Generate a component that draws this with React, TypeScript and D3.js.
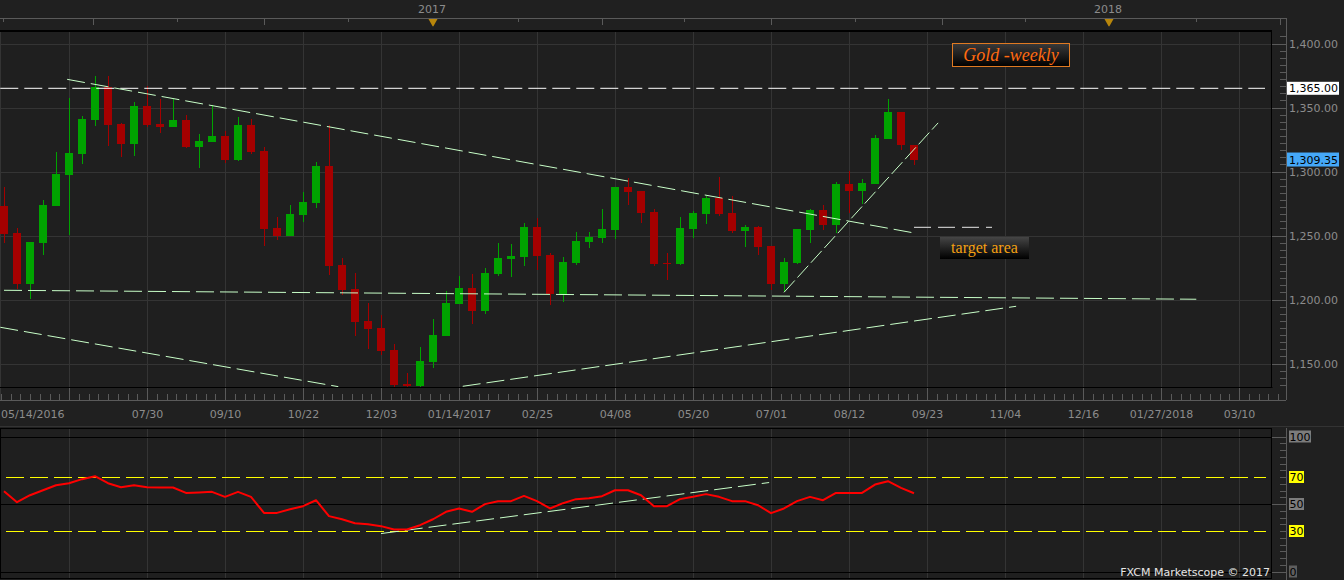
import * as d3 from "d3";

// weekly candles, first week 2016-05-14
const firstWeek = "2016-05-14";
const opens = [1273.0, 1251.7, 1212.3, 1244.4, 1273.0, 1297.5, 1313.7, 1340.2, 1365.8, 1337.1, 1321.7, 1351.2, 1337.1, 1334.8, 1340.2, 1319.4, 1323.0, 1327.7, 1309.0, 1336.3, 1316.0, 1255.9, 1249.6, 1266.0, 1275.4, 1304.3, 1227.0, 1208.2, 1183.2, 1177.7, 1160.5, 1134.0, 1132.4, 1151.2, 1171.5, 1196.7, 1209.0, 1191.0, 1219.9, 1231.9, 1233.2, 1256.6, 1234.8, 1204.3, 1228.5, 1244.9, 1248.0, 1254.3, 1287.9, 1284.8, 1268.4, 1228.5, 1227.7, 1255.1, 1266.8, 1279.3, 1267.6, 1253.5, 1256.6, 1241.8, 1212.3, 1228.5, 1254.3, 1270.0, 1258.2, 1290.2, 1284.8, 1290.2, 1325.4, 1346.5, 1320.7];
const highs = [1287.9, 1255.6, 1244.9, 1277.7, 1315.2, 1357.2, 1343.4, 1374.6, 1374.6, 1337.9, 1354.3, 1366.8, 1356.6, 1356.6, 1344.1, 1329.3, 1352.0, 1331.6, 1342.6, 1341.0, 1319.1, 1264.2, 1273.8, 1284.0, 1307.4, 1336.3, 1232.4, 1220.5, 1197.3, 1187.9, 1165.2, 1142.6, 1163.0, 1184.8, 1206.6, 1218.4, 1219.9, 1224.6, 1244.1, 1243.4, 1259.8, 1263.7, 1236.3, 1233.2, 1252.7, 1252.7, 1270.7, 1287.9, 1294.9, 1284.8, 1270.7, 1236.3, 1264.5, 1269.1, 1280.9, 1295.7, 1280.9, 1258.2, 1257.4, 1241.8, 1232.4, 1255.1, 1270.7, 1273.8, 1291.8, 1300.4, 1294.1, 1328.5, 1356.6, 1346.5, 1320.7];
const lows = [1244.0, 1208.0, 1200.4, 1234.8, 1273.0, 1250.4, 1306.0, 1335.5, 1320.2, 1311.6, 1312.3, 1334.8, 1330.1, 1334.8, 1318.4, 1303.0, 1323.0, 1306.4, 1308.2, 1313.9, 1241.8, 1246.5, 1249.6, 1260.5, 1271.5, 1219.1, 1203.8, 1171.5, 1161.3, 1156.6, 1122.0, 1124.0, 1128.0, 1146.5, 1171.5, 1196.7, 1181.0, 1188.9, 1218.4, 1217.6, 1226.2, 1223.0, 1195.7, 1198.0, 1226.9, 1240.2, 1244.1, 1247.3, 1273.8, 1259.8, 1226.2, 1215.2, 1227.0, 1248.0, 1259.0, 1265.2, 1252.0, 1241.0, 1234.8, 1207.4, 1205.9, 1228.0, 1244.1, 1254.3, 1252.0, 1267.6, 1274.6, 1290.2, 1325.4, 1316.8, 1305.0];
const closes = [1251.2, 1212.3, 1244.9, 1273.8, 1298.0, 1314.5, 1341.0, 1365.8, 1336.3, 1321.7, 1351.2, 1336.3, 1334.8, 1340.2, 1319.4, 1323.8, 1327.7, 1309.2, 1336.3, 1315.5, 1255.1, 1249.8, 1266.8, 1276.2, 1304.3, 1226.2, 1207.7, 1182.7, 1177.0, 1160.0, 1133.4, 1132.4, 1152.0, 1172.3, 1197.3, 1209.0, 1191.0, 1220.7, 1232.4, 1234.0, 1256.6, 1234.0, 1204.3, 1229.3, 1245.7, 1248.8, 1255.1, 1287.9, 1284.0, 1267.6, 1227.7, 1228.0, 1255.9, 1267.6, 1279.3, 1266.8, 1253.5, 1256.6, 1241.0, 1212.3, 1229.3, 1255.1, 1270.0, 1258.2, 1290.2, 1284.8, 1291.0, 1326.2, 1346.5, 1320.7, 1309.35];
const rsi = [59.5, 51.3, 56.5, 60.2, 63.9, 65.4, 68.4, 70.6, 65.4, 62.4, 63.9, 62.4, 62.2, 62.2, 58.2, 58.5, 59.0, 55.3, 59.0, 55.3, 43.4, 43.4, 46.1, 48.4, 52.8, 41.0, 38.7, 35.8, 35.0, 33.6, 31.1, 31.1, 34.3, 38.7, 44.2, 46.7, 44.2, 49.9, 52.1, 52.1, 56.0, 52.1, 46.7, 50.6, 53.6, 54.3, 55.8, 60.2, 60.2, 56.5, 48.4, 48.4, 53.6, 55.3, 57.3, 55.3, 52.1, 52.1, 49.1, 43.2, 46.7, 52.1, 55.3, 52.8, 58.2, 58.2, 58.2, 64.4, 66.9, 61.9, 58.0];

// drawn lines: [date, value] end points
const keyLevel: [string, number][] = [["2016-05-12", 1365], ["2018-03-24", 1365]];
const resistance: [string, number][] = [["2016-06-17", 1372], ["2017-09-16", 1252]];
const support: [string, number][] = [["2016-05-14", 1207.2], ["2018-02-15", 1200.2]];
const lowerFall: [string, number][] = [["2016-05-12", 1178.3], ["2016-11-10", 1131.9]];
const lowerRise: [string, number][] = [["2017-01-16", 1132.2], ["2017-11-10", 1194.7]];
const steepRise: [string, number][] = [["2017-07-08", 1205.6], ["2017-09-29", 1338]];
const targetLevel: [string, number][] = [["2017-09-16", 1256.4], ["2017-10-28", 1256.4]];
const rsiTrend: [string, number][] = [["2016-12-03", 28.1], ["2017-06-30", 65.9]];
const rsiLevels = [70, 30];

const gridDates = ["2016-06-18", "2016-07-30", "2016-09-10", "2016-10-22", "2016-12-03", "2017-01-14", "2017-02-25", "2017-04-08", "2017-05-20", "2017-07-01", "2017-08-12", "2017-09-23", "2017-11-04", "2017-12-16", "2018-01-27", "2018-03-10"];
const gridLabels = ["", "07/30", "09/10", "10/22", "12/03", "01/14/2017", "02/25", "04/08", "05/20", "07/01", "08/12", "09/23", "11/04", "12/16", "01/27/2018", "03/10"];
const firstLabel = "05/14/2016";
const yearMarks = [["2016-12-31", "2017"], ["2017-12-30", "2018"]];
const topTicksLong = ["2016-07-01", "2016-10-01", "2017-04-01", "2017-07-01", "2017-10-01", "2018-04-01"];
const topTicksShort = ["2016-08-15", "2016-11-15", "2017-02-15", "2017-05-15", "2017-08-15", "2017-11-15", "2018-02-15"];
const priceTicks = [1150, 1200, 1250, 1300, 1350, 1400];
const rsiTicks = [100, 70, 50, 30, 0];
const lastPrice = 1309.35;

const parse = d3.utcParse("%Y-%m-%d");
const fmt = d3.format(",.2f");

const GREEN = "#00a300";
const RED = "#a50000";
const GRID = "#343434";
const AXIS = "#5a5a5a";
const TXT = "#8c8c8c";
const MINT = "#c8ffc8";
const FONT = "DejaVu Sans, Verdana, sans-serif";

export default function App() {
  const W = 1344, H = 580;
  const plotR = 1272, plotT = 31, plotB = 387;
  const axisX = 1286;
  const dates = opens.map((_, i) => d3.utcDay.offset(parse(firstWeek)!, 7 * i));

  const x = d3.scaleUtc().domain([parse("2016-05-14")!, parse("2017-09-16")!]).range([4, 914]);
  const y = d3.scaleLinear().domain([1150, 1400]).range([363.5, 43.5]);
  const yR = d3.scaleLinear().domain([0, 100]).range([571.5, 436.5]);

  const px = (d: string) => x(parse(d)!);
  const seg = (pts: [string, number][], sc: (v: number) => number) =>
    d3.line<[string, number]>().x(p => px(p[0])).y(p => sc(p[1]))(pts) || "";

  const gx = gridDates.map(d => Math.round(px(d)) + 0.5);
  const step = (px("2016-07-30") - px("2016-06-18")) / 8;
  const minorStart = px("2016-05-07");
  const minorX = d3.range(0, 170).map(i => minorStart + i * step).filter(v => v > 0 && v < 1280);

  const priceMinor: number[] = [];
  for (let i = 0; i < priceTicks.length - 1; i++) {
    const a = y(priceTicks[i]), b = y(priceTicks[i + 1]);
    for (let j = 1; j < 9; j++) priceMinor.push(a + (b - a) * j / 9);
  }
  for (let j = 1; j < 4; j++) priceMinor.push(y(1400) - (y(1150) - y(1400)) / 5 / 9 * j);
  for (let j = 1; j < 4; j++) priceMinor.push(y(1150) + (y(1150) - y(1400)) / 5 / 9 * j);

  const rsiMinor = d3.range(0, 101, 5).filter(v => v % 50 !== 0);
  const rsiLine = d3.line<number>().x((_, i) => x(dates[i])).y(v => yR(v));

  return (
    <svg width={W} height={H} style={{ position: "absolute", left: 0, top: 0, background: "#202020" }}>
      <defs>
        <clipPath id="plot"><rect x={0} y={plotT} width={plotR} height={plotB - plotT} /></clipPath>
        <linearGradient id="gold" x1="0" y1="0" x2="0" y2="1">
          <stop offset="0" stopColor="#3a3a3a" />
          <stop offset="1" stopColor="#000" />
        </linearGradient>
        <linearGradient id="tgt" x1="0" y1="0" x2="0" y2="1">
          <stop offset="0" stopColor="#454545" />
          <stop offset="1" stopColor="#000" />
        </linearGradient>
      </defs>

      <rect x={0} y={0} width={W} height={H} fill="#202020" />
      <rect x={0} y={plotT} width={plotR} height={plotB - plotT} fill="#1f1f1f" />

      {/* top time axis */}
      <line x1={0} x2={axisX} y1={18.5} y2={18.5} stroke={AXIS} />
      {topTicksLong.map(d => <line key={d} x1={Math.round(px(d)) + 0.5} x2={Math.round(px(d)) + 0.5} y1={18} y2={25} stroke={AXIS} />)}
      {topTicksShort.map(d => <line key={d} x1={Math.round(px(d)) + 0.5} x2={Math.round(px(d)) + 0.5} y1={18} y2={22} stroke={AXIS} />)}
      <line x1={3.5} x2={3.5} y1={18} y2={22} stroke={AXIS} />
      {yearMarks.map(([d, t]) => {
        const cx = px(d);
        return (
          <g key={t}>
            <text x={cx - 1} y={13} textAnchor="middle" fontFamily={FONT} fontSize={11} fill={TXT}>{t}</text>
            <path d={`M${cx - 4.5},19 L${cx + 4.5},19 L${cx},27 Z`} fill="#b8860b" />
            <line x1={cx} x2={cx} y1={26} y2={33} stroke="#222" />
          </g>
        );
      })}

      {/* grid */}
      {priceTicks.map(v => <line key={v} x1={0} x2={plotR} y1={Math.round(y(v)) + 0.5} y2={Math.round(y(v)) + 0.5} stroke={GRID} />)}
      {gx.map(v => <line key={v} x1={v} x2={v} y1={plotT} y2={400} stroke={GRID} />)}
      <line x1={0.5} x2={0.5} y1={plotT} y2={400} stroke={GRID} />

      {/* candles */}
      <g clipPath="url(#plot)">
        {dates.map((d, i) => {
          const cx = Math.round(x(d));
          const up = closes[i] >= opens[i];
          const c = up ? GREEN : RED;
          const top = Math.round(y(Math.max(opens[i], closes[i])));
          const bot = Math.round(y(Math.min(opens[i], closes[i])));
          return (
            <g key={i}>
              <rect x={cx} width={1} y={Math.round(y(highs[i]))} height={Math.round(y(lows[i])) - Math.round(y(highs[i]))} fill={c} />
              <rect x={cx - 4} width={8} y={top} height={Math.max(1, bot - top)} fill={c} />
            </g>
          );
        })}

        <path d={seg(keyLevel, y)} stroke="#ffffff" strokeDasharray="18 6" fill="none" />
        <path d={seg(resistance, y)} stroke={MINT} strokeDasharray="18 6" fill="none" />
        <path d={seg(support, y)} stroke={MINT} strokeDasharray="18 6" fill="none" />
        <path d={seg(lowerFall, y)} stroke={MINT} strokeDasharray="18 6" fill="none" />
        <path d={seg(lowerRise, y)} stroke={MINT} strokeDasharray="18 6" fill="none" />
        <path d={seg(steepRise, y)} stroke={MINT} strokeDasharray="16 4" fill="none" />
        <path d={seg(targetLevel, y)} stroke="#e8e8e8" strokeDasharray="17 7" fill="none" />
      </g>

      {/* labels on chart */}
      <rect x={952.5} y={43.5} width={117} height={23} fill="url(#gold)" stroke="#e07a22" />
      <text x={1011} y={61} textAnchor="middle" fontFamily="Liberation Serif, serif" fontStyle="italic" fontSize={18} fill="#ff6a10">Gold -weekly</text>
      <rect x={940} y={237} width={89} height={22} fill="url(#tgt)" />
      <text x={984.5} y={252.5} textAnchor="middle" fontFamily="Liberation Serif, serif" fontSize={16} fill="#f4a012">target area</text>

      {/* frame */}
      <line x1={0} x2={plotR} y1={31} y2={31} stroke="#000" strokeWidth={2} />
      <line x1={0} x2={plotR + 0.5} y1={387.5} y2={387.5} stroke="#000" />
      <line x1={plotR - 0.5} x2={plotR - 0.5} y1={30} y2={388} stroke="#000" />

      {/* price axis */}
      <line x1={axisX + 0.5} x2={axisX + 0.5} y1={18} y2={400} stroke={AXIS} />
      {priceTicks.map(v => <line key={v} x1={plotR} x2={axisX} y1={Math.round(y(v)) + 0.5} y2={Math.round(y(v)) + 0.5} stroke={AXIS} />)}
      {priceMinor.filter(v => v > 33 && v < 386).map((v, i) => <line key={i} x1={1280} x2={axisX} y1={Math.round(v) + 0.5} y2={Math.round(v) + 0.5} stroke={AXIS} />)}
      {priceTicks.map(v => <text key={v} x={1289} y={y(v) + 4} fontFamily={FONT} fontSize={11} fill={TXT}>{fmt(v)}</text>)}
      <rect x={1287} y={y(1365) - 6.5} width={52} height={13} fill="#ffffff" />
      <text x={1289} y={y(1365) + 4} fontFamily={FONT} fontSize={11} fill="#000">{fmt(1365)}</text>
      <rect x={1287} y={y(lastPrice) - 7} width={52} height={14} fill="#45a8f8" />
      <text x={1289} y={y(lastPrice) + 4} fontFamily={FONT} fontSize={11} fill="#000">{fmt(lastPrice)}</text>

      {/* bottom time axis */}
      <line x1={0} x2={axisX} y1={400.5} y2={400.5} stroke={AXIS} />
      {minorX.map((v, i) => <line key={i} x1={Math.round(v) + 0.5} x2={Math.round(v) + 0.5} y1={394} y2={400} stroke={AXIS} />)}
      {gx.map(v => <line key={v} x1={v} x2={v} y1={388} y2={400} stroke={AXIS} />)}
      <text x={1} y={418} fontFamily={FONT} fontSize={11} fill={TXT}>{firstLabel}</text>
      {gridLabels.map((t, i) => t ? <text key={t} x={gx[i]} y={418} textAnchor="middle" fontFamily={FONT} fontSize={11} fill={TXT}>{t}</text> : null)}
      <line x1={0} x2={W} y1={426.5} y2={426.5} stroke="#333" />

      {/* RSI panel */}
      <rect x={0} y={428} width={plotR} height={150} fill="#1f1f1f" />
      {gx.map(v => <line key={v} x1={v} x2={v} y1={428} y2={578} stroke={GRID} />)}
      <line x1={0.5} x2={0.5} y1={428} y2={578} stroke={GRID} />
      {[100, 50, 0].map(v => <line key={v} x1={0} x2={plotR} y1={Math.round(yR(v)) + 0.5} y2={Math.round(yR(v)) + 0.5} stroke="#000" />)}
      {rsiLevels.map(v => <line key={v} x1={6} x2={1266} y1={Math.round(yR(v)) + 0.5} y2={Math.round(yR(v)) + 0.5} stroke="#ffff00" strokeDasharray="18 6" />)}
      <path d={seg(rsiTrend, yR)} stroke={MINT} strokeDasharray="18 6" fill="none" />
      <path d={rsiLine(rsi) || ""} stroke="#ff0000" strokeWidth={2} fill="none" strokeLinejoin="round" />
      <rect x={0.5} y={428.5} width={plotR - 1} height={150} fill="none" stroke="#000" />
      <text x={1270} y={575.5} textAnchor="end" fontFamily={FONT} fontSize={11} fill="#e6e6e6">FXCM Marketscope © 2017</text>

      {/* RSI axis */}
      <line x1={axisX + 0.5} x2={axisX + 0.5} y1={428} y2={580} stroke={AXIS} />
      {rsiMinor.map(v => <line key={v} x1={1280} x2={axisX} y1={Math.round(yR(v)) + 0.5} y2={Math.round(yR(v)) + 0.5} stroke={AXIS} />)}
      {[100, 50, 0].map(v => <line key={v} x1={plotR} x2={axisX} y1={Math.round(yR(v)) + 0.5} y2={Math.round(yR(v)) + 0.5} stroke={AXIS} />)}
      {rsiTicks.map(v => {
        const t = String(v);
        const w = t.length * 7 + 1;
        const bg = v === 70 || v === 30 ? "#ffff00" : v === 0 ? "#5e5e5e" : "#7c7c7c";
        return (
          <g key={v}>
            <rect x={1289} y={yR(v) - 6} width={w} height={12} fill={bg} />
            <text x={1289.5} y={yR(v) + 4} fontFamily={FONT} fontSize={11} fill="#000">{t}</text>
          </g>
        );
      })}
    </svg>
  );
}
